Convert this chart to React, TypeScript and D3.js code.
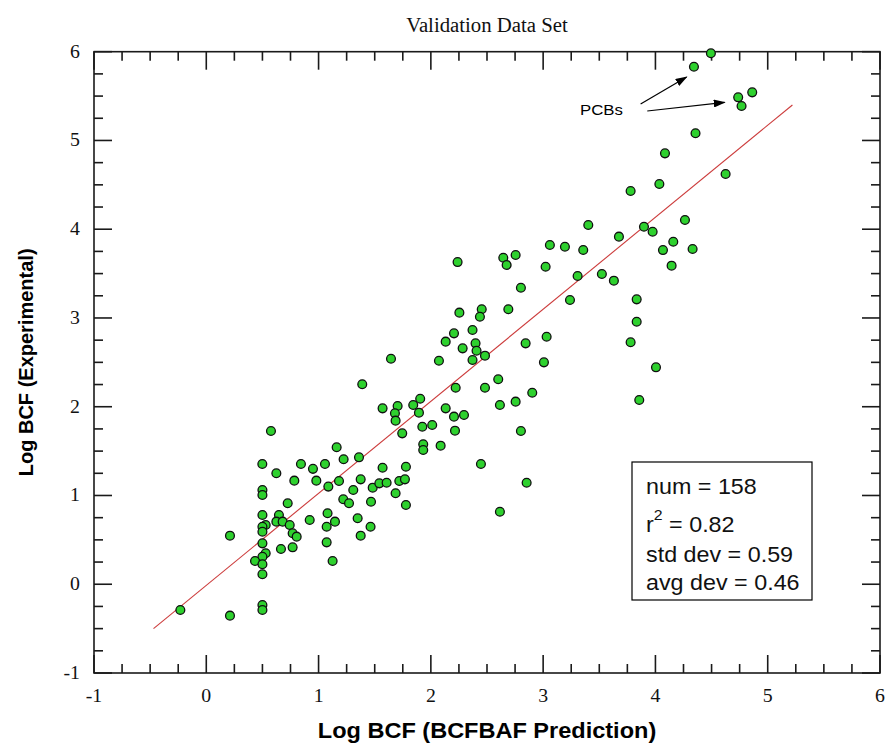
import React from "react";
import * as d3 from "d3";

// ---- data ----
const predicted: number[] = [
  0.576, 0.499, 0.624, 0.843, 0.95, 0.784, 0.98, 0.5, 0.5, 0.725,
  0.5, 0.647, 0.624, 0.68, 0.529, 0.5, 0.5, 0.743, 0.769, 0.805,
  0.921, 0.211, 0.5, 0.665, 0.769, 0.529, 0.5, 0.434, 0.5, 0.5,
  0.5, 0.5, -0.231, 0.211, 1.072, 1.072, 1.057, 1.087, 1.08,
  1.57, 1.704, 1.68, 1.686, 1.843, 1.894, 1.905, 2.132, 2.206, 2.295,
  2.215, 2.615, 2.755, 2.802, 1.745, 1.924, 2.012, 1.932, 1.932, 2.087,
  2.446, 2.853, 2.615, 1.161, 1.223, 1.36, 1.182, 1.375, 1.57, 1.778,
  1.309, 1.482, 1.541, 1.606, 1.719, 1.769, 1.686, 1.22, 1.271, 1.467,
  1.778, 1.146, 1.348, 1.463, 1.375, 1.125,
  2.238, 2.645, 2.675, 2.755, 3.022, 3.06, 2.802, 2.254, 2.453, 2.437,
  2.69, 2.371, 2.206, 2.132, 2.283, 2.398, 2.407, 2.482, 2.371, 2.072,
  2.844, 3.031, 3.007, 1.645, 1.389, 2.221, 2.482, 2.6, 2.903,
  3.402, 3.675, 3.898, 3.975, 4.263, 4.159, 4.067, 4.331, 4.144, 3.194,
  3.357, 3.307, 3.523, 3.63, 3.239, 3.833, 3.833, 3.779, 4.005, 3.856,
  4.494, 4.343, 4.737, 4.767, 4.862, 4.357, 4.085, 4.035, 3.779, 4.625,
];
const experimental: number[] = [
  1.726, 1.355, 1.25, 1.355, 1.3, 1.167, 1.167, 1.062, 1.005, 0.912,
  0.78, 0.78, 0.705, 0.705, 0.667, 0.648, 0.592, 0.667, 0.574, 0.536,
  0.724, 0.547, 0.461, 0.397, 0.416, 0.349, 0.31, 0.262, 0.225, 0.112,
  -0.234, -0.29, -0.29, -0.354, 0.648, 0.472, 1.355, 1.1, 0.8,
  1.982, 2.008, 1.926, 1.843, 2.019, 1.933, 2.09, 1.982, 1.888, 1.907,
  1.73, 2.02, 2.057, 1.726, 1.7, 1.775, 1.794, 1.577, 1.512, 1.561,
  1.355, 1.144, 0.817, 1.543, 1.408, 1.43, 1.163, 1.182, 1.313, 1.324,
  1.062, 1.088, 1.137, 1.144, 1.163, 1.182, 1.025, 0.957, 0.912, 0.93,
  0.893, 0.705, 0.743, 0.648, 0.547, 0.262,
  3.63, 3.679, 3.597, 3.709, 3.577, 3.822, 3.341, 3.06, 3.098, 3.014,
  3.098, 2.865, 2.827, 2.733, 2.658, 2.714, 2.631, 2.575, 2.526, 2.518,
  2.714, 2.789, 2.5, 2.541, 2.253, 2.214, 2.214, 2.309, 2.158,
  4.047, 3.916, 4.028, 3.972, 4.104, 3.859, 3.765, 3.777, 3.589, 3.803,
  3.766, 3.473, 3.495, 3.42, 3.202, 3.21, 2.958, 2.726, 2.444, 2.076,
  5.982, 5.831, 5.486, 5.388, 5.542, 5.081, 4.855, 4.509, 4.43, 4.622,
];
const fitX: number[] = [-0.47, 5.22];
const fitY: number[] = [-0.5, 5.4];
const xTickLabels: number[] = [-1, 0, 1, 2, 3, 4, 5, 6];
const yTickLabels: number[] = [-1, 0, 1, 2, 3, 4, 5, 6];
const statsLines: string[] = ["num = 158", "r|2| = 0.82", "std dev = 0.59", "avg dev = 0.46"];
const pcbLabel = "PCBs";
const pcbLabelAt: [number, number] = [3.328, 5.287];
const pcbArrows: [number, number, number, number][] = [
  [3.868, 5.411, 4.278, 5.716],
  [3.927, 5.332, 4.617, 5.43],
];
const title = "Validation Data Set";
const xLabel = "Log BCF (BCFBAF Prediction)";
const yLabel = "Log BCF (Experimental)";

export default function App() {
  const W = 885, H = 748;
  const left = 94, right = 880, top = 51.7, bottom = 673;
  const x = d3.scaleLinear().domain([-1, 6]).range([left, right]);
  const y = d3.scaleLinear().domain([-1, 6]).range([bottom, top]);
  const minor = d3.range(-1, 6.0001, 0.25);
  const isMajor = (v: number) => Math.abs(v - Math.round(v)) < 1e-6;
  const serif = "'Liberation Serif', 'Times New Roman', serif";
  const sans = "'Liberation Sans', Arial, sans-serif";
  const line = d3.line<[number, number]>().x(d => x(d[0])).y(d => y(d[1]));
  const fitPts: [number, number][] = fitX.map((v, i) => [v, fitY[i]]);
  const pts = predicted.map((v, i) => [v, experimental[i]] as [number, number]);
  const majLen = 18, minLen = 9;
  const tickColor = "#1a1a1a";

  return (
    <svg width={W} height={H} style={{ position: "absolute", left: 0, top: 0, background: "#fff" }}>
      <defs>
        <marker id="arr" viewBox="0 0 12 8" refX="11" refY="4" markerWidth="12" markerHeight="8" markerUnits="userSpaceOnUse" orient="auto">
          <path d="M0,0 L12,4 L0,8 Z" fill="#000" />
        </marker>
      </defs>
      <rect x={0} y={0} width={W} height={H} fill="#fff" />
      {/* title */}
      <text transform={`translate(${(left + right) / 2},32) scale(1.04,1)`} textAnchor="middle" fontFamily={serif} fontSize={20} fill="#111">{title}</text>

      {/* ticks */}
      <g stroke={tickColor} strokeWidth={1.6}>
        {minor.map((v, i) => {
          const L = isMajor(v) ? majLen : minLen;
          const px = x(v), py = y(v);
          return (
            <g key={i}>
              <line x1={px} x2={px} y1={bottom} y2={bottom - L} />
              <line x1={px} x2={px} y1={top} y2={top + L} />
              <line x1={left} x2={left + L} y1={py} y2={py} />
              <line x1={right} x2={right - L} y1={py} y2={py} />
            </g>
          );
        })}
      </g>
      <rect x={left} y={top} width={right - left} height={bottom - top} fill="none" stroke={tickColor} strokeWidth={1.6} />

      {/* tick labels */}
      {xTickLabels.map(v => (
        <text key={"x" + v} transform={`translate(${x(v)},${bottom + 29}) scale(1.1,1)`} textAnchor="middle" fontFamily={serif} fontSize={18} fill="#111">{v}</text>
      ))}
      {yTickLabels.map(v => (
        <text key={"y" + v} transform={`translate(80,${y(v) + 6}) scale(1.1,1)`} textAnchor="end" fontFamily={serif} fontSize={18} fill="#111">{v}</text>
      ))}

      {/* axis labels */}
      <text transform={`translate(${(left + right) / 2},738) scale(1.07,1)`} textAnchor="middle" fontFamily={sans} fontWeight="bold" fontSize={22} fill="#000">{xLabel}</text>
      <text transform={`translate(32.5,${(top + bottom) / 2}) rotate(-90)`} textAnchor="middle" fontFamily={sans} fontWeight="bold" fontSize={20} fill="#000">{yLabel}</text>

      {/* fit line */}
      <path d={line(fitPts) || ""} fill="none" stroke="#cc3b3b" strokeWidth={1.1} />

      {/* points */}
      <g>
        {pts.map((p, i) => (
          <circle key={i} cx={x(p[0])} cy={y(p[1])} r={4.4} fill="#2ed12e" stroke="#101010" strokeWidth={1.3} />
        ))}
      </g>

      {/* PCB annotation */}
      <text transform={`translate(${x(pcbLabelAt[0])},${y(pcbLabelAt[1])}) scale(1.12,1)`} fontFamily={sans} fontSize={15} fill="#000">{pcbLabel}</text>
      {pcbArrows.map((a, i) => (
        <line key={i} x1={x(a[0])} y1={y(a[1])} x2={x(a[2])} y2={y(a[3])} stroke="#000" strokeWidth={1.2} markerEnd="url(#arr)" />
      ))}

      {/* stats box */}
      <rect x={632} y={462} width={180} height={138} fill="#fff" stroke="#000" strokeWidth={1.2} />
      {statsLines.map((s, i) => {
        const baselines = [494, 531.5, 561.5, 589.5];
        const parts = s.split("|");
        return (
          <text key={i} transform={`translate(646,${baselines[i]}) scale(1.06,1)`} fontFamily={sans} fontSize={22} fill="#111">
            {parts.length === 3 ? (
              <>
                <tspan>{parts[0]}</tspan>
                <tspan dy={-12} fontSize={15}>{parts[1]}</tspan>
                <tspan dy={12}>{parts[2]}</tspan>
              </>
            ) : s}
          </text>
        );
      })}
    </svg>
  );
}
